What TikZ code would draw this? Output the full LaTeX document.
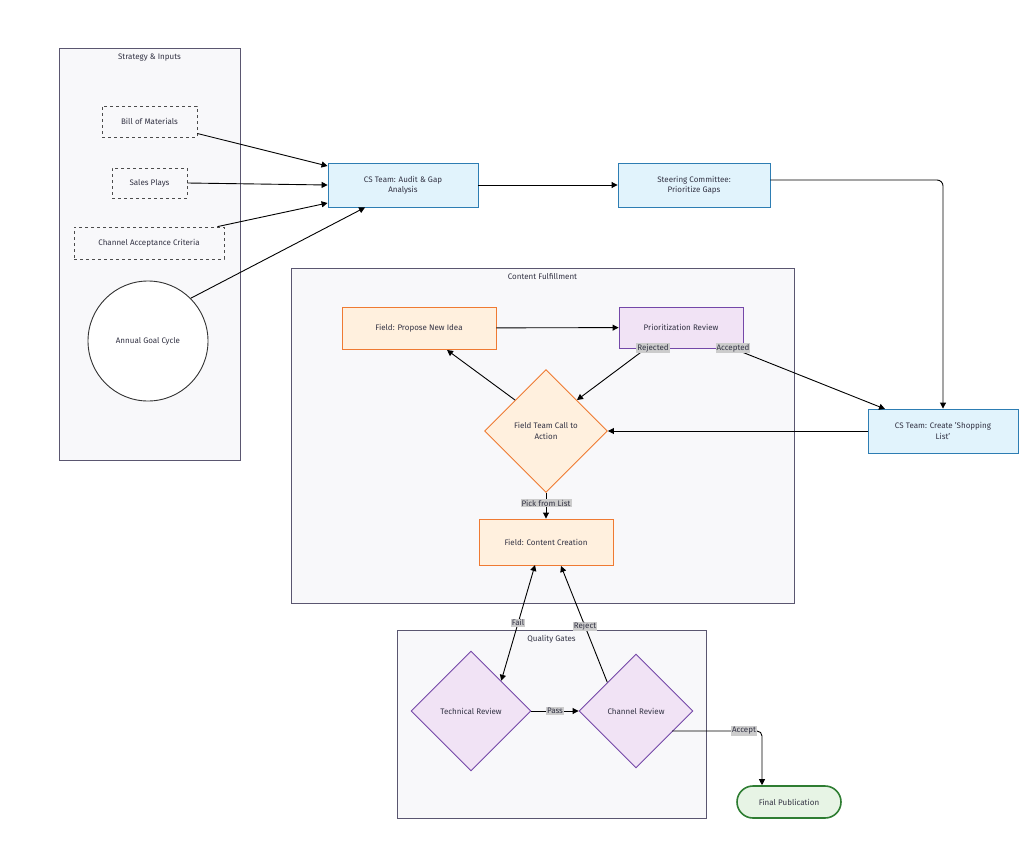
\documentclass[tikz,border=0pt]{standalone}
\usepackage{fontspec}
\setmainfont{Fira Sans}
\usetikzlibrary{shapes.geometric,arrows.meta,positioning}
\definecolor{grpfill}{HTML}{F8F8FA}
\definecolor{grpdraw}{HTML}{5A5670}
\definecolor{bluef}{HTML}{E1F3FC}
\definecolor{blued}{HTML}{2D7DB3}
\definecolor{orf}{HTML}{FFF0DE}
\definecolor{ord}{HTML}{EF7A32}
\definecolor{puf}{HTML}{F1E3F5}
\definecolor{pud}{HTML}{7448A8}
\definecolor{grf}{HTML}{E7F4E5}
\definecolor{grd}{HTML}{2E7D32}
\definecolor{txt}{HTML}{333344}
\begin{document}
\begin{tikzpicture}[x=1pt,y=-1pt,font=\fontsize{8}{10.5}\selectfont,text=txt,
 grp/.style={draw=grpdraw,fill=grpfill,line width=0.9pt},
 gtitle/.style={anchor=north,font=\fontsize{8}{10}\selectfont},
 dbox/.style={draw=black!70,dashed,fill=grpfill,line width=0.7pt,inner sep=0pt},
 blue/.style={draw=blued,fill=bluef,line width=0.9pt,align=center,inner sep=0pt},
 orng/.style={draw=ord,fill=orf,line width=0.9pt,align=center,inner sep=0pt},
 purp/.style={draw=pud,fill=puf,line width=0.9pt,align=center,inner sep=0pt},
 dia/.style={diamond,aspect=1,inner sep=0pt,align=center,line width=0.9pt},
 arr/.style={-{Triangle[length=6pt,width=6pt]},line width=0.9pt},
 lbl/.style={fill=black!20,inner sep=1pt,font=\fontsize{8}{9}\selectfont}]
\useasboundingbox (0,0) rectangle (1024,864);
% groups
\draw[grp] (59,48) rectangle (240,460);
\node[gtitle] at (149.5,50) {Strategy \& Inputs};
\draw[grp] (291,268) rectangle (794,603);
\node[gtitle] at (542.5,270) {Content Fulfillment};
\draw[grp] (397,630) rectangle (706,818);
\node[gtitle] at (551.5,632) {Quality Gates};
% nodes
\node[dbox,minimum width=95pt,minimum height=31pt] (bom) at (149.5,121.5) {Bill of Materials};
\node[dbox,minimum width=75pt,minimum height=30pt] (sp) at (149.5,183) {Sales Plays};
\node[dbox,minimum width=150pt,minimum height=32pt] (cac) at (149,243) {Channel Acceptance Criteria};
\node[circle,draw=black!80,fill=white,line width=0.9pt,minimum size=120pt,inner sep=0pt] (agc) at (148,341) {Annual Goal Cycle};
\node[blue,minimum width=150pt,minimum height=44pt] (audit) at (403,185) {CS Team: Audit \& Gap\\Analysis};
\node[blue,minimum width=152pt,minimum height=44pt] (steer) at (694,185) {Steering Committee:\\Prioritize Gaps};
\node[orng,minimum width=154pt,minimum height=42pt] (prop) at (419,328) {Field: Propose New Idea};
\node[purp,minimum width=124pt,minimum height=41pt] (prio) at (681,327.5) {Prioritization Review};
\node[dia,draw=ord,fill=orf,minimum size=123pt] (cta) at (546,431) {Field Team Call to\\Action};
\node[orng,minimum width=134pt,minimum height=46pt] (cc) at (546,542) {Field: Content Creation};
\node[blue,minimum width=150pt,minimum height=44pt] (shop) at (943,431) {CS Team: Create 'Shopping\\List'};
\node[dia,draw=pud,fill=puf,minimum size=120pt] (tech) at (471,711) {Technical Review};
\node[dia,draw=pud,fill=puf,minimum size=114pt] (chan) at (636,711) {Channel Review};
\node[draw=grd,fill=grf,rounded corners=16pt,line width=1.6pt,minimum width=104pt,minimum height=32pt,inner sep=0pt] (pub) at (789,802) {Final Publication};
\coordinate (acc) at (762,731);
\coordinate (accs) at (672,731);
% edges
\draw[arr] ([yshift=-12pt]bom.east) -- ([yshift=19pt]audit.west);
\draw[arr] (sp.east) -- (audit.west);
\draw[arr] ([xshift=-7pt]cac.north east) -- ([yshift=-18pt]audit.west);
\draw[arr] (agc.45) -- ([xshift=-38pt]audit.south);
\draw[arr] (audit) -- (steer);
\draw[arr,rounded corners=6pt] ([yshift=5pt]steer.east) -- (943,180) -- (shop.north);
\draw[arr] (prop) -- (prio);
\draw[arr] ([xshift=-35pt]prio.south) -- (cta.north east);
\draw[arr] ([xshift=52pt]prio.south) -- (885,409);
\node[lbl] at (653,348) {Rejected};
\node[lbl] at (733,348) {Accepted};
\draw[arr] (shop.west) -- (cta.east);
\draw[arr] (cta.north west) -- (447,350);
\draw[arr] (cta.south) -- (cc.north) node[lbl,pos=0.4] {Pick from List};
\draw[{Triangle[length=6pt,width=6pt]}-{Triangle[length=6pt,width=6pt]},line width=0.9pt] (535,565) -- (tech.north east) node[lbl,pos=0.5] {Fail};
\draw[arr] (chan.north west) -- (561,566) node[lbl,pos=0.48] {Reject};
\draw[arr] (tech.east) -- (chan.west) node[lbl,midway] {Pass};
\draw[arr,rounded corners=5pt] (accs) -- (acc) -- (pub.north -| acc);
\node[lbl] at (744,731) {Accept};
\end{tikzpicture}
\end{document}
